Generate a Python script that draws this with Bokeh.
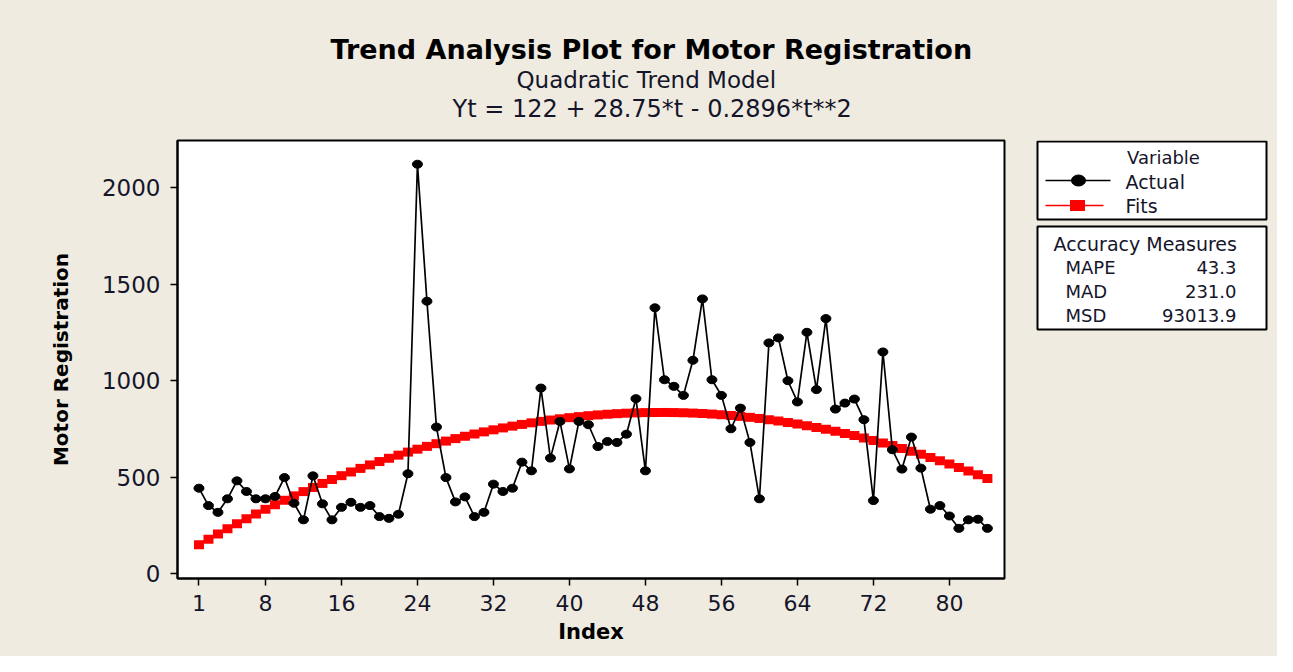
from bokeh.plotting import figure
from bokeh.models import Range1d, Title, FixedTicker
from bokeh.layouts import row
from bokeh.embed import file_html
from bokeh.resources import INLINE
from bokeh.core.properties import value

# ---------------- data ----------------
index = list(range(1, 85))
actual = [443, 353, 318, 388, 481, 426, 388, 388, 400, 498,
          365, 279, 507, 362, 279, 344, 370, 344, 353, 296,
          287, 308, 518, 2122, 1412, 760, 498, 372, 398, 296,
          318, 464, 426, 443, 578, 533, 962, 599, 789, 543,
          789, 772, 659, 685, 680, 723, 907, 533, 1378, 1005,
          971, 924, 1106, 1424, 1005, 924, 751, 858, 680, 388,
          1196, 1222, 1000, 890, 1251, 954, 1322, 853, 884, 905,
          798, 379, 1149, 642, 542, 708, 547, 334, 353, 299,
          235, 279, 282, 235]
fits = [150.5, 178.3, 205.6, 232.4, 258.5, 284.1, 309.1, 333.5, 357.3, 380.5,
        403.2, 425.3, 446.8, 467.7, 488.1, 507.9, 527.1, 545.7, 563.7, 581.2,
        598.0, 614.3, 630.1, 645.2, 659.8, 673.7, 687.1, 700.0, 712.2, 723.9,
        734.9, 745.5, 755.4, 764.7, 773.5, 781.7, 789.3, 796.3, 802.8, 808.6,
        813.9, 818.7, 822.8, 826.3, 829.3, 831.7, 833.5, 834.8, 835.4, 835.5,
        835.0, 833.9, 832.3, 830.0, 827.2, 823.8, 819.8, 815.3, 810.2, 804.4,
        798.2, 791.3, 783.8, 775.8, 767.2, 758.0, 748.2, 737.9, 727.0, 715.5,
        703.4, 690.7, 677.5, 663.7, 649.3, 634.3, 618.7, 602.6, 585.9, 568.6,
        550.7, 532.2, 513.2, 493.6]
x_ticks = [1, 8, 16, 24, 32, 40, 48, 56, 64, 72, 80]
y_ticks = [0, 500, 1000, 1500, 2000]
title_main = "Trend Analysis Plot for Motor Registration"
title_sub = "Quadratic Trend Model"
title_eq = "Yt = 122 + 28.75*t - 0.2896*t**2"
legend_title = "Variable"
legend_labels = ["Actual", "Fits"]
acc_title = "Accuracy Measures"
acc_names = ["MAPE", "MAD", "MSD"]
acc_values = ["43.3", "231.0", "93013.9"]

BG = "#EFEBE1"
FONT = "DejaVu Sans"
TXT = "#15152a"

# ---------------- main plot ----------------
p = figure(width=1025, height=656,
           x_range=Range1d(-1.26, 85.8), y_range=Range1d(-25, 2245),
           output_backend="svg", toolbar_location=None,
           min_border_left=177, min_border_right=21,
           min_border_top=140, min_border_bottom=78)
p.background_fill_color = "white"
p.border_fill_color = BG
p.outline_line_color = "black"
p.outline_line_width = 2
p.xgrid.visible = False
p.ygrid.visible = False

p.xaxis.ticker = FixedTicker(ticks=x_ticks)
p.yaxis.ticker = FixedTicker(ticks=y_ticks)
for ax in (p.xaxis, p.yaxis):
    ax.axis_line_color = "black"
    ax.axis_line_width = 2
    ax.major_tick_in = 0
    ax.major_tick_out = 7
    ax.major_tick_line_width = 1.5
    ax.minor_tick_line_color = None
    ax.major_label_text_font = FONT
    ax.major_label_text_color = TXT
    ax.axis_label_text_font = FONT
    ax.axis_label_text_font_style = "bold"
    ax.axis_label_text_color = "black"
p.xaxis.major_label_text_font_size = "22px"
p.yaxis.major_label_text_font_size = "23px"
p.xaxis.major_label_standoff = 9
p.yaxis.major_label_standoff = 10
p.xaxis.axis_label = "Index"
p.xaxis.axis_label_text_font_size = "21px"
p.xaxis.axis_label_standoff = 6
p.yaxis.axis_label = "Motor Registration"
p.yaxis.axis_label_text_font_size = "20px"
p.yaxis.axis_label_standoff = 26

# Fits (red squares connected)
p.line(index, fits, line_color="red", line_width=1.5)
p.rect(x=index, y=fits, width=10, height=9, width_units="screen",
       height_units="screen", fill_color="red", line_color=None)
# Actual (black dots connected)
p.line(index, actual, line_color="black", line_width=1.7)
p.ellipse(x=index, y=actual, width=10, height=8, width_units="screen",
          height_units="screen", fill_color="black", line_color="black")

# titles (innermost first); a blank title keeps the gap above the frame
p.add_layout(Title(text=" ", text_font=FONT, text_font_size="14px",
                   standoff=0), "above")
p.add_layout(Title(text=title_eq, align="left", offset=275,
                   text_font=FONT, text_font_size="24px",
                   text_font_style="normal", text_color=TXT,
                   standoff=0), "above")
p.add_layout(Title(text=title_sub, align="left", offset=339,
                   text_font=FONT, text_font_size="23px",
                   text_font_style="normal", text_color=TXT,
                   standoff=0), "above")
p.add_layout(Title(text=title_main, align="left", offset=153,
                   text_font=FONT, text_font_size="27px",
                   text_font_style="bold", text_color="black",
                   standoff=0), "above")

# ---------------- legend panel ----------------
q = figure(width=252, height=656, x_range=Range1d(1025, 1277),
           y_range=Range1d(578, 140), x_axis_type=None, y_axis_type=None,
           output_backend="svg", toolbar_location=None,
           min_border_left=0, min_border_right=0,
           min_border_top=140, min_border_bottom=78)
q.background_fill_color = BG
q.border_fill_color = BG
q.outline_line_color = None
q.xgrid.visible = False
q.ygrid.visible = False

q.quad(left=[1037, 1037], right=[1266, 1266], top=[141, 226],
       bottom=[219, 329], fill_color="white", line_color="black",
       line_width=2)
q.line([1045, 1110], [180, 180], line_color="black", line_width=1.5)
q.ellipse(x=[1078], y=[180], width=14, height=11, width_units="screen",
          height_units="screen", fill_color="black", line_color="black")
q.line([1045, 1103], [205, 205], line_color="red", line_width=1.5)
q.rect(x=[1077], y=[205], width=15, height=11, width_units="screen",
       height_units="screen", fill_color="red", line_color=None)

q.text(x=[1163], y=[157], text=[legend_title], text_align="center",
       text_baseline="middle", text_font=value(FONT),
       text_font_size="18px", text_color=TXT)
q.text(x=[1125, 1125], y=[181, 205], text=legend_labels,
       text_align="left", text_baseline="middle", text_font=value(FONT),
       text_font_size="19px", text_color=TXT)
q.text(x=[1053], y=[243], text=[acc_title], text_align="left",
       text_baseline="middle", text_font=value(FONT),
       text_font_size="19px", text_color=TXT)
q.text(x=[1065] * 3, y=[267, 291, 315], text=acc_names, text_align="left",
       text_baseline="middle", text_font=value(FONT),
       text_font_size="18px", text_color=TXT)
q.text(x=[1236] * 3, y=[267, 291, 315], text=acc_values,
       text_align="right", text_baseline="middle", text_font=value(FONT),
       text_font_size="18px", text_color=TXT)

layout = row(p, q, spacing=0, styles={"background-color": BG})
open("out.html", "w").write(file_html(layout, INLINE))
